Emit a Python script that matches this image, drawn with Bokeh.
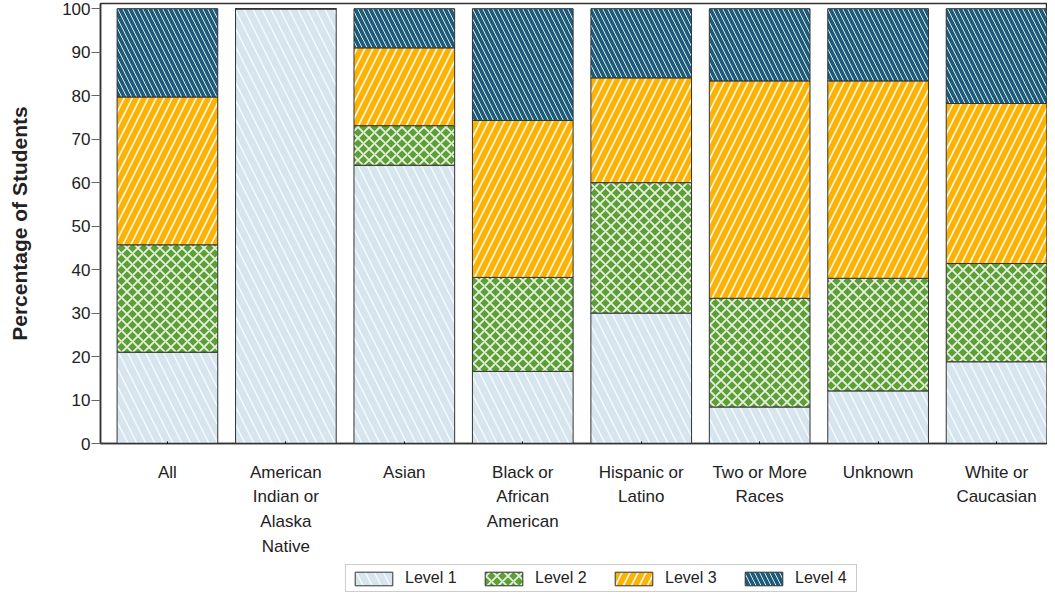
from bokeh.plotting import figure
from bokeh.layouts import column
from bokeh.models import Legend, LegendItem, FixedTicker, ColumnDataSource, Range1d
from bokeh.embed import file_html
from bokeh.resources import INLINE

categories = ["All", "American\nIndian or\nAlaska\nNative", "Asian", "Black or\nAfrican\nAmerican",
              "Hispanic or\nLatino", "Two or More\nRaces", "Unknown", "White or\nCaucasian"]
level1 = [21.0, 100.0, 64.0, 16.6, 30.0, 8.4, 12.1, 18.8]
level2 = [24.7, 0.0, 9.1, 21.6, 30.0, 25.0, 25.9, 22.6]
level3 = [34.0, 0.0, 17.9, 36.1, 24.1, 50.0, 45.4, 36.8]
level4 = [20.3, 0.0, 9.0, 25.7, 15.9, 16.6, 16.6, 21.8]
levels = ["Level 1", "Level 2", "Level 3", "Level 4"]
y_ticks = list(range(0, 101, 10))

x = list(range(len(categories)))
src = ColumnDataSource(dict(x=x, l1=level1, l2=level2, l3=level3, l4=level4))

FONT = "Liberation Sans"
p = figure(frame_width=947, frame_height=440, output_backend="svg", toolbar_location=None,
           x_range=Range1d(-0.565, 7.43), y_range=Range1d(0, 101.2),
           min_border_left=100, min_border_top=3, min_border_right=0, min_border_bottom=114)
p.grid.visible = False
p.outline_line_color = "#333333"
p.outline_line_width = 1.5

fills = ["#d6e5ee", "#5d9f35", "#fdb100", "#1d5b7d"]
hatches = ["\\", "x", "/", "\\"]
hscales = [18, 11, 16, 10]
hweights = [1.3, 1.8, 1.8, 1.0]
style = dict(fill_color=fills, line_color="#333333", line_width=1,
             hatch_pattern=hatches, hatch_color="#ffffff",
             hatch_scale=hscales, hatch_weight=hweights, hatch_alpha=0.85)

renderers = p.vbar_stack(["l1", "l2", "l3", "l4"], x="x", width=0.85, source=src, **style)

p.xaxis.ticker = FixedTicker(ticks=x)
p.xaxis.major_label_overrides = {i: c for i, c in enumerate(categories)}
p.xaxis.major_tick_out = 0
p.xaxis.minor_tick_line_color = None
p.xaxis.major_label_standoff = 19
p.xaxis.major_label_text_font = FONT
p.xaxis.major_label_text_font_size = "17px"
p.xaxis.major_label_text_color = "#222222"
p.xaxis.major_label_text_line_height = 1.3
p.xaxis.axis_line_color = "#333333"
p.xaxis.axis_line_width = 1.5

p.yaxis.ticker = FixedTicker(ticks=y_ticks)
p.yaxis.major_tick_out = 9
p.yaxis.major_tick_in = 0
p.yaxis.minor_tick_line_color = None
p.yaxis.major_label_standoff = 1
p.yaxis.major_label_text_font = FONT
p.yaxis.major_label_text_font_size = "17px"
p.yaxis.major_label_text_color = "#222222"
p.yaxis.axis_line_color = "#333333"
p.yaxis.axis_line_width = 1.5
p.yaxis.major_tick_line_color = "#666666"
p.yaxis.axis_label = "Percentage of Students"
p.yaxis.axis_label_text_font = FONT
p.yaxis.axis_label_text_font_size = "21px"
p.yaxis.axis_label_text_font_style = "bold"
p.yaxis.axis_label_text_color = "#222222"
p.yaxis.axis_label_standoff = 28

# legend strip below the chart (its bars lie outside its visible ranges)
leg = figure(width=1047, height=35, output_backend="svg", toolbar_location=None,
             x_range=Range1d(1000, 1001), y_range=Range1d(1000, 1001), min_border=0,
             x_axis_type=None, y_axis_type=None)
leg.grid.visible = False
leg.outline_line_color = None
leg_renderers = leg.vbar_stack(["l1", "l2", "l3", "l4"], x="x", width=0.85, source=src, **style)
legend = Legend(items=[LegendItem(label=l, renderers=[r]) for l, r in zip(levels, leg_renderers)],
                orientation="horizontal", location=(245, 1),
                label_text_font=FONT, label_text_font_size="16px", label_text_color="#222222",
                glyph_width=47, glyph_height=17, spacing=18, padding=4, margin=0,
                label_width=57, label_standoff=8,
                border_line_color="#999999", border_line_width=1)
leg.add_layout(legend, "center")

layout = column(p, leg, spacing=0)
open("out.html", "w").write(file_html(layout, INLINE))
